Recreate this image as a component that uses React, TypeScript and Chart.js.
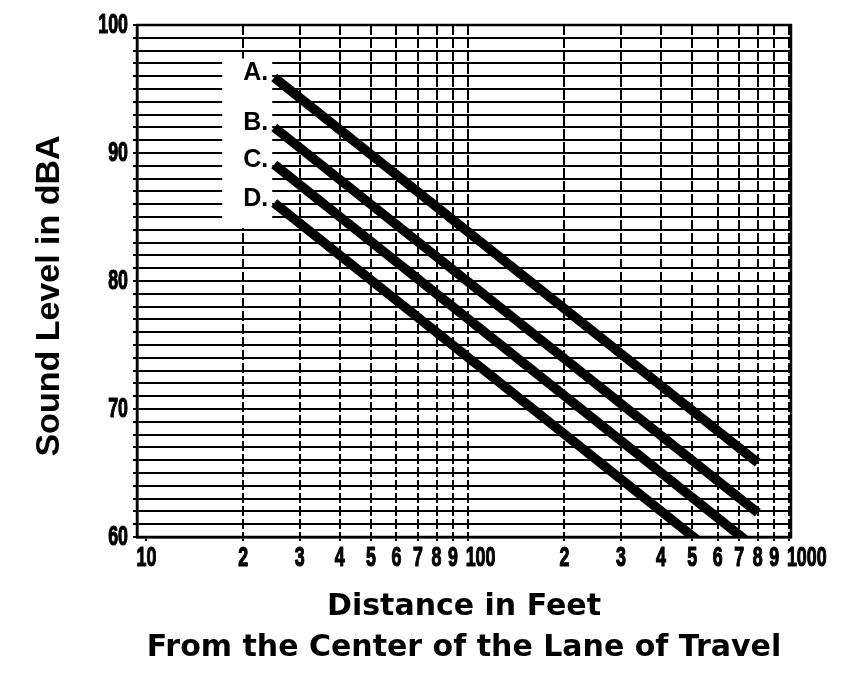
import React, { useEffect, useRef } from 'react';
import { Chart, registerables } from 'chart.js';

Chart.register(...registerables);

// Distance from the center of the lane of travel (feet)
const distances = [25, 800];
// Sound levels (dBA) of each line at those distances
const levelsA = [95.9, 65.8];
const levelsB = [92.0, 61.9];
const levelsC = [89.1, 59.0];
const levelsD = [86.1, 56.0];
const seriesNames = ['A.', 'B.', 'C.', 'D.'];

const xTickValues = [10, 20, 30, 40, 50, 60, 70, 80, 90, 100, 200, 300, 400, 500, 600, 700, 800, 900, 1000];
const xTickLabels = ['10', '2', '3', '4', '5', '6', '7', '8', '9', '100', '2', '3', '4', '5', '6', '7', '8', '9', '1000'];
const yLabelValues = [60, 70, 80, 90, 100];
const yLabelTexts = ['60', '70', '80', '90', '100'];
const yTitle = 'Sound Level in dBA';
const xTitle = ['Distance in Feet', 'From the Center of the Lane of Travel'];

const SANS = '"Liberation Sans", Arial, sans-serif';
const SQUISH = 0.66;

function narrowText(ctx: any, text: string, x: number, y: number, align: string) {
  ctx.save();
  ctx.translate(x, y);
  ctx.scale(SQUISH, 1);
  ctx.textAlign = align;
  ctx.lineWidth = 1.2;
  ctx.strokeStyle = '#000';
  ctx.lineJoin = 'round';
  ctx.strokeText(text, 0, 0);
  ctx.fillText(text, 0, 0);
  ctx.restore();
}

const overlayPlugin = {
  id: 'overlay',
  beforeDatasetsDraw(chart: any) {
    const { ctx, chartArea: ca, scales } = chart;
    const xs = scales.x;
    const ys = scales.y;
    ctx.save();
    ctx.strokeStyle = '#000';
    ctx.lineWidth = 2.5;
    ctx.strokeRect(ca.left, ca.top, ca.right - ca.left, ca.bottom - ca.top);
    const x0 = xs.getPixelForValue(distances[0]);
    const yTop = ys.getPixelForValue(levelsA[0]);
    const yBot = ys.getPixelForValue(levelsD[0]);
    ctx.fillStyle = '#fff';
    ctx.fillRect(x0 - 52, yTop - 19, 50, yBot - yTop + 44);
    ctx.restore();
  },
  afterDatasetsDraw(chart: any) {
    const { ctx } = chart;
    ctx.save();
    ctx.fillStyle = '#000';
    ctx.font = 'bold 25px ' + SANS;
    ctx.textAlign = 'right';
    ctx.textBaseline = 'middle';
    seriesNames.forEach((name, i) => {
      const meta = chart.getDatasetMeta(i);
      const p = meta.data[0];
      if (p) ctx.fillText(name, p.x - 6, p.y - 4);
    });
    ctx.restore();
  },
  afterDraw(chart: any) {
    const { ctx, scales, chartArea } = chart;
    const xs = scales.x;
    const ys = scales.y;
    ctx.save();
    ctx.fillStyle = '#000';
    ctx.font = 'bold 27px ' + SANS;
    ctx.textBaseline = 'middle';
    // x tick labels
    xTickValues.forEach((v, i) => {
      const px = xs.getPixelForValue(v);
      const txt = xTickLabels[i];
      const wide = txt.length >= 3;
      narrowText(ctx, txt, wide ? px - 2 : px, chartArea.bottom + 22, wide ? 'left' : 'center');
    });
    // y tick labels
    yLabelValues.forEach((v, i) => {
      const py = ys.getPixelForValue(v);
      narrowText(ctx, yLabelTexts[i], chartArea.left - 9, py + 1, 'right');
    });
    // y title
    ctx.save();
    ctx.font = 'bold 34px ' + SANS;
    ctx.textAlign = 'center';
    ctx.translate(50, (chartArea.top + chartArea.bottom) / 2 + 15);
    ctx.rotate(-Math.PI / 2);
    ctx.fillText(yTitle, 0, 0);
    ctx.restore();
    ctx.restore();
  },
};

export default function App() {
  const ref = useRef<HTMLCanvasElement | null>(null);

  useEffect(() => {
    if (!ref.current) return;
    Chart.defaults.color = '#000';
    const mk = (label: string, vals: number[]) => ({
      label,
      data: distances.map((d, i) => ({ x: d, y: vals[i] })),
      borderColor: '#000',
      backgroundColor: '#000',
      borderWidth: 9.5,
      borderCapStyle: 'butt' as const,
      pointRadius: 0,
      fill: false,
      clip: 0,
    });
    const chart = new Chart(ref.current, {
      type: 'line',
      data: {
        datasets: [
          mk('A', levelsA),
          mk('B', levelsB),
          mk('C', levelsC),
          mk('D', levelsD),
        ],
      },
      options: {
        animation: false,
        responsive: false,
        devicePixelRatio: 1,
        layout: { padding: { left: 0, top: 25, right: 61, bottom: 0 } },
        plugins: { legend: { display: false }, tooltip: { enabled: false } },
        scales: {
          x: {
            type: 'logarithmic',
            min: 9.35,
            max: 1015,
            afterBuildTicks: (s: any) => {
              s.ticks = xTickValues.map((v) => ({ value: v }));
            },
            afterFit: (s: any) => {
              s.height = 153;
            },
            ticks: { display: false },
            grid: {
              color: (c: any) => (c.tick && c.tick.value === 10 ? 'rgba(0,0,0,0)' : '#000'),
              lineWidth: 2,
              tickLength: 4,
              tickColor: '#000',
            },
            border: { display: true, color: '#000', width: 2.5, dash: [10, 3] },
            title: {
              display: true,
              text: xTitle,
              color: '#000',
              font: { family: '"DejaVu Sans", sans-serif', weight: 'bold', size: 30, lineHeight: 41 / 30 },
              padding: { top: 0, bottom: 21.5 },
            },
          },
          y: {
            type: 'linear',
            min: 60,
            max: 100,
            afterFit: (s: any) => {
              s.width = 137;
            },
            ticks: {
              stepSize: 1,
              autoSkip: false,
              display: false,
            },
            grid: { color: '#000', lineWidth: 2, tickLength: 4, tickColor: '#000' },
            border: { display: true, color: '#000', width: 2.5 },
            title: { display: false },
          },
        },
      },
      plugins: [overlayPlugin],
    });
    return () => chart.destroy();
  }, []);

  return (
    <div style={{ position: 'fixed', left: 0, top: 0, width: 852, height: 690, background: '#fff' }}>
      <canvas ref={ref} width={852} height={690} style={{ display: 'block' }} />
    </div>
  );
}
